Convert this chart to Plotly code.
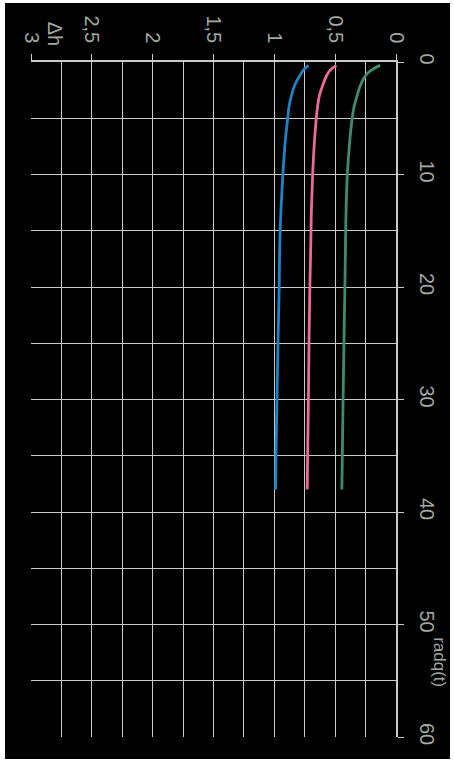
import plotly.graph_objects as go

radq = [0.3, 0.7, 1.2, 2, 3, 4, 5, 7, 10, 13, 16, 20, 25, 30, 34, 38]
dh_blue = [0.72, 0.76, 0.79, 0.83, 0.86, 0.88, 0.89, 0.91, 0.93, 0.945, 0.955, 0.96, 0.97, 0.978, 0.985, 0.99]
dh_pink = [0.49, 0.54, 0.57, 0.60, 0.63, 0.645, 0.655, 0.67, 0.685, 0.695, 0.70, 0.708, 0.715, 0.72, 0.725, 0.73]
dh_green = [0.13, 0.20, 0.25, 0.29, 0.32, 0.345, 0.36, 0.38, 0.40, 0.41, 0.415, 0.42, 0.428, 0.435, 0.44, 0.445]

x_ticks = [0, 0.5, 1, 1.5, 2, 2.5, 3]
y_ticks = [0, 10, 20, 30, 40, 50, 60]

gray = "#a0aaa2"
grid = "#c9cbc8"

W, H = 454, 764
L, R, T, B = 31, 58, 62, 27
pw, ph = W - L - R, H - T - B

fig = go.Figure()
for vals, col in [(dh_blue, "#1f82c4"), (dh_pink, "#ea6a9c"), (dh_green, "#3e8c6c")]:
    fig.add_trace(go.Scatter(x=vals, y=radq, mode="lines",
                             line=dict(color=col, width=2.8, shape="spline"),
                             showlegend=False, hoverinfo="skip"))

font = dict(family="Liberation Sans, Arial, sans-serif", size=20, color=gray)

# black panel inside thin white border (pixel -> paper coords)
def px_x(p):
    return (p - L) / pw

def px_y(p):
    return (H - B - p) / ph

fig.update_layout(
    width=W, height=H,
    margin=dict(l=L, r=R, t=T, b=B),
    paper_bgcolor="white", plot_bgcolor="black",
    separators=",.",
    font=font,
    shapes=[dict(type="rect", xref="paper", yref="paper",
                 x0=px_x(5), x1=px_x(450), y0=px_y(759), y1=px_y(3),
                 fillcolor="black", line=dict(width=0), layer="below")],
    xaxis=dict(range=[3, 0], side="top", tickvals=x_ticks, tickangle=90,
               showgrid=True, gridcolor=grid, gridwidth=1,
               minor=dict(dtick=0.25, showgrid=True, gridcolor=grid, gridwidth=1),
               showline=True, linecolor=grid, linewidth=1.5,
               ticks="outside", ticklen=6, tickcolor=grid, zeroline=False,
               ticklabelstandoff=4, tickfont=font),
    yaxis=dict(range=[60, 0], side="right", tickvals=y_ticks, tickangle=90,
               showgrid=True, gridcolor=grid, gridwidth=1,
               minor=dict(dtick=5, showgrid=True, gridcolor=grid, gridwidth=1),
               showline=True, linecolor=grid, linewidth=1.5,
               ticks="outside", ticklen=6, tickcolor=grid, zeroline=False,
               ticklabelstandoff=8, tickfont=font),
    annotations=[
        dict(text="Δh", x=2.80, y=1.0, xref="x", yref="paper", yanchor="bottom",
             yshift=14, textangle=90, showarrow=False,
             font=dict(family=font["family"], size=20, color=gray)),
        dict(text="radq(t)", x=1.0, y=53.3, xref="paper", yref="y", xanchor="left",
             xshift=32, textangle=90, showarrow=False,
             font=dict(family=font["family"], size=17, color=gray)),
    ],
)

fig.write_html("out.html", config={"displayModeBar": False},
               post_script="document.body.style.margin='0';")
